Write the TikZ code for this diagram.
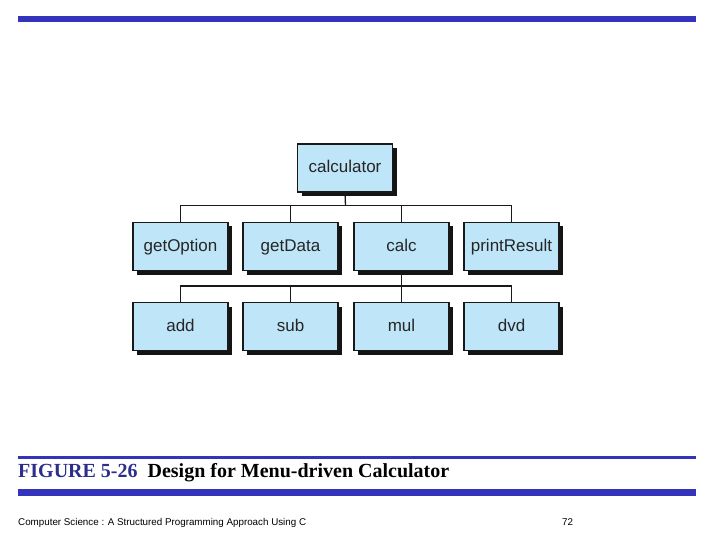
\documentclass[tikz,border=0pt]{standalone}
\usepackage{fontspec}
\setmainfont{Liberation Sans}
\newfontfamily\capfont{Liberation Serif}
\usetikzlibrary{shadows}
\definecolor{barblue}{RGB}{51,51,187}
\definecolor{capblue}{RGB}{45,45,140}
\definecolor{boxblue}{RGB}{190,229,248}
\begin{document}
\begin{tikzpicture}[x=1pt,y=-1pt,
  mod/.style={draw=black!90, line width=1.2pt, fill=boxblue, minimum width=95pt, minimum height=48pt, inner sep=0pt,
    text height=13pt, text depth=3pt,
    font=\fontsize{17}{20}\selectfont, text=black!85,
    drop shadow={shadow xshift=4pt, shadow yshift=-4pt, fill=black!92, opacity=1}},
  link/.style={line width=1.3pt, draw=black!90},
  bar/.style={fill=barblue}]
\useasboundingbox (0,0) rectangle (720,540);
% bars
\fill[bar] (18,16) rectangle (696,22.5);
\fill[bar] (18,456) rectangle (696,459);
\fill[bar] (18,489) rectangle (696,495.5);
% modules
\node[mod] (top) at (345,168) {calculator};
\node[mod] (gopt) at (180.5,246.5) {getOption};
\node[mod] (gdata) at (290.5,246.5) {getData};
\node[mod] (calc) at (401.5,246.5) {calc};
\node[mod] (pres) at (511.5,246.5) {printResult};
\node[mod] (add) at (180.5,326.5) {add};
\node[mod] (sub) at (290.5,326.5) {sub};
\node[mod] (mul) at (401.5,326.5) {mul};
\node[mod] (dvd) at (511.5,326.5) {dvd};
% connectors
\coordinate (j1) at (345.5,205.7);
\coordinate (j2) at (401.5,286);
\draw[link] (top.south) -- (j1);
\draw[link] (gopt.north) -- (gopt.north |- j1) -- (pres.north |- j1) -- (pres.north);
\draw[link] (gdata.north) -- (gdata.north |- j1);
\draw[link] (calc.north) -- (calc.north |- j1);
\draw[link] (calc.south) -- (j2);
\draw[link] (add.north) -- (add.north |- j2) -- (dvd.north |- j2) -- (dvd.north);
\draw[link] (sub.north) -- (sub.north |- j2);
\draw[link] (mul.north) -- (mul.north |- j2);
% caption
\node[anchor=base west, inner sep=0pt, font=\capfont\bfseries\fontsize{20}{24}\selectfont] (cap) at (18,477)
  {\textcolor{capblue}{FIGURE 5-26}\hspace{10pt}Design for Menu-driven Calculator};
\node[anchor=base west, inner sep=0pt, font=\fontsize{9.8}{11}\selectfont] (foot) at (18,525)
  {Computer Science : A Structured Programming Approach Using C};
\node[anchor=base west, inner sep=0pt, font=\fontsize{9.8}{11}\selectfont] (page) at (562,525) {72};
\end{tikzpicture}
\end{document}
